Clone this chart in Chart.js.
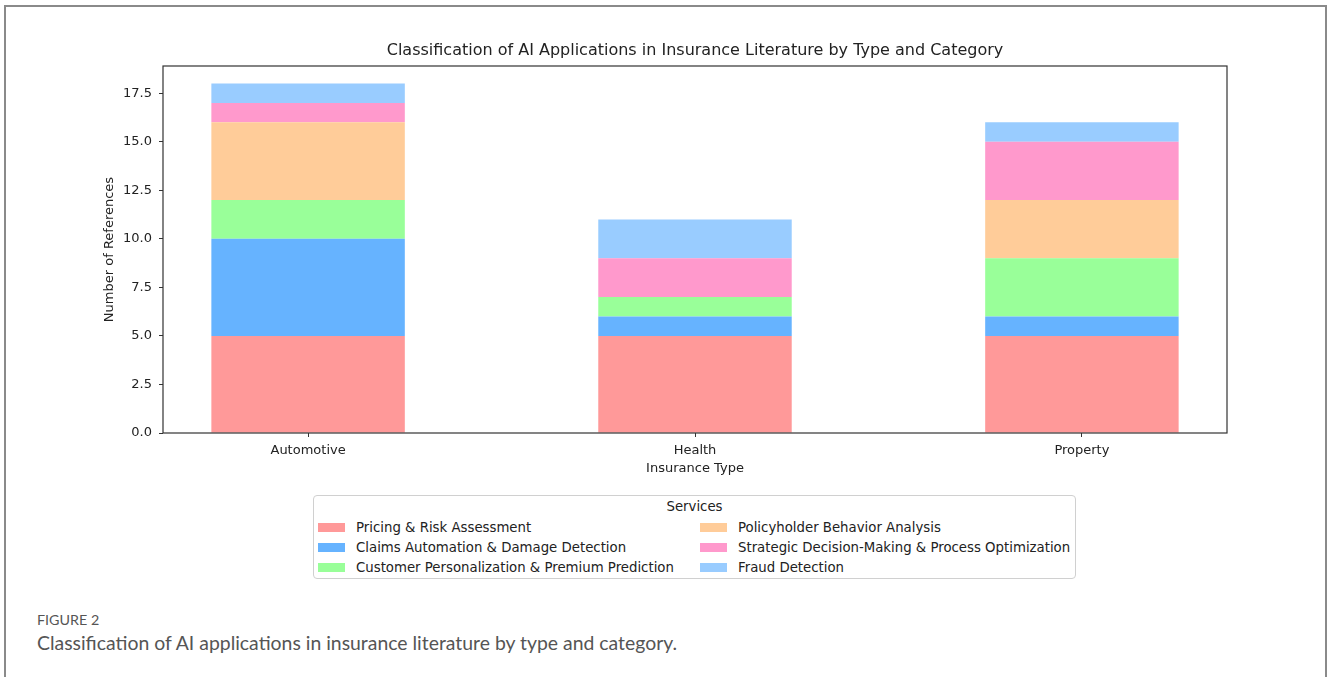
<!DOCTYPE html>
<html>
<head>
<meta charset="utf-8">
<script src="https://cdn.jsdelivr.net/npm/chart.js@4.4.1/dist/chart.umd.min.js"></script>
<style>
  html, body { margin: 0; padding: 0; width: 1328px; height: 677px; overflow: hidden; background: #fff; }
  #frame { position: absolute; left: 4px; top: 5px; width: 1319px; height: 720px; border: 2px solid #8a8a8a; border-bottom: none; }
  #myChart { position: absolute; left: 0; top: 0; }
  #legend { position: absolute; left: 313px; top: 495px; width: 761px; height: 82px; border: 1px solid #d0d0d0; border-radius: 4px;
            font-family: "DejaVu Sans", sans-serif; font-size: 13.3px; color: #222; }
  #legend .ttl { position: absolute; left: 0; right: 0; top: 3px; text-align: center; }
  #legend .item { position: absolute; height: 20px; line-height: 20px; white-space: nowrap; }
  #legend .sw { display: inline-block; width: 27px; height: 9px; vertical-align: middle; margin-right: 11px; margin-top: -2px; }
  #figLabel { position: absolute; left: 37px; top: 611px; font-family: Lato, sans-serif; font-size: 14.3px; color: #555; }
  #caption { position: absolute; left: 37px; top: 631px; font-family: Lato, sans-serif; font-size: 19.4px; color: #555; }
</style>
</head>
<body>
<div id="frame"></div>
<canvas id="myChart" width="1328" height="490"></canvas>
<div id="legend"></div>
<div id="figLabel">FIGURE 2</div>
<div id="caption">Classification of AI applications in insurance literature by type and category.</div>
<script>
const insuranceTypes = ["Automotive", "Health", "Property"];
const pricingRisk = [5, 5, 5];
const claimsAutomation = [5, 1, 1];
const customerPersonalization = [2, 1, 3];
const policyholderBehavior = [4, 0, 3];
const strategicDecision = [1, 2, 3];
const fraudDetection = [1, 2, 1];
const yTicks = [0, 2.5, 5, 7.5, 10, 12.5, 15, 17.5];

const series = [
  { label: "Pricing & Risk Assessment", values: pricingRisk, color: "#ff9999" },
  { label: "Claims Automation & Damage Detection", values: claimsAutomation, color: "#66b3ff" },
  { label: "Customer Personalization & Premium Prediction", values: customerPersonalization, color: "#99ff99" },
  { label: "Policyholder Behavior Analysis", values: policyholderBehavior, color: "#ffcc99" },
  { label: "Strategic Decision-Making & Process Optimization", values: strategicDecision, color: "#ff99cc" },
  { label: "Fraud Detection", values: fraudDetection, color: "#99ccff" }
];

const font = "DejaVu Sans";
const ink = "#222";

const framePlugin = {
  id: "framePlugin",
  afterDraw(chart) {
    const { ctx, chartArea: a } = chart;
    ctx.save();
    ctx.strokeStyle = "#333";
    ctx.lineWidth = 1.2;
    ctx.strokeRect(a.left, a.top, a.right - a.left, a.bottom - a.top);
    ctx.fillStyle = ink;
    ctx.font = "16px '" + font + "'";
    ctx.textAlign = "center";
    ctx.textBaseline = "middle";
    ctx.fillText("Classification of AI Applications in Insurance Literature by Type and Category", (a.left + a.right) / 2, 51);
    ctx.restore();
  }
};

const ctx = document.getElementById("myChart").getContext("2d");
const chart = new Chart(ctx, {
  type: "bar",
  data: {
    datasets: series.map(s => ({
      label: s.label,
      data: insuranceTypes.map((t, i) => ({ x: i, y: s.values[i] })),
      backgroundColor: s.color,
      borderWidth: 0,
      categoryPercentage: 1,
      barPercentage: 0.5
    }))
  },
  options: {
    responsive: false,
    animation: false,
    layout: { padding: { left: 102, right: 101, top: 66, bottom: 14 } },
    plugins: { legend: { display: false }, title: { display: false }, tooltip: { enabled: false } },
    scales: {
      x: {
        type: "linear",
        stacked: true,
        min: -0.375,
        max: 2.375,
        offset: false,
        border: { display: false },
        grid: { offset: false, drawOnChartArea: false, drawTicks: true, tickLength: 4, color: "#333", tickColor: "#333" },
        afterBuildTicks: scale => { scale.ticks = insuranceTypes.map((t, i) => ({ value: i })); },
        afterFit: scale => { scale.height = 43; },
        ticks: { color: ink, padding: 6, font: { family: font, size: 13 }, maxRotation: 0, callback: v => insuranceTypes[v] },
        title: { display: true, text: "Insurance Type", color: ink, padding: 0, font: { family: font, size: 13 } }
      },
      y: {
        stacked: true,
        min: 0,
        max: 18.9,
        border: { display: false },
        grid: { drawOnChartArea: false, drawTicks: true, tickLength: 4, color: "#333", tickColor: "#333" },
        afterBuildTicks: scale => { scale.ticks = yTicks.map(v => ({ value: v })); },
        afterFit: scale => { scale.width = 61; },
        ticks: { color: ink, padding: 7, font: { family: font, size: 13 }, callback: v => Number(v).toFixed(1) },
        title: { display: true, text: "Number of References", color: ink, padding: 0, font: { family: font, size: 13 } }
      }
    }
  },
  plugins: [framePlugin]
});

// legend: two columns, filled top to bottom
const legend = document.getElementById("legend");
legend.innerHTML = '<div class="ttl">Services</div>';
chart.data.datasets.forEach((ds, i) => {
  const col = Math.floor(i / 3), row = i % 3;
  const item = document.createElement("div");
  item.className = "item";
  item.style.left = (col === 0 ? 4 : 386) + "px";
  item.style.top = (22 + row * 20) + "px";
  item.innerHTML = '<span class="sw" style="background:' + ds.backgroundColor + '"></span>' + ds.label;
  legend.appendChild(item);
});
</script>
</body>
</html>
